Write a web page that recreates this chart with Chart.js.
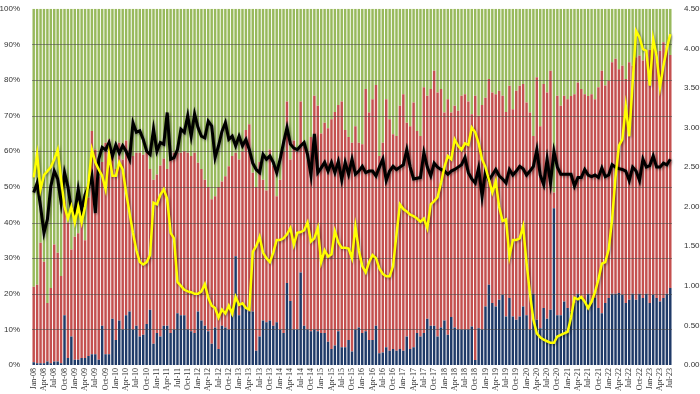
<!DOCTYPE html>
<html>
<head>
<meta charset="utf-8">
<script src="https://cdn.jsdelivr.net/npm/chart.js@4/dist/chart.umd.min.js"></script>
<style>
  html, body { margin: 0; padding: 0; background: #fff; }
  #wrap { width: 700px; height: 394px; }
</style>
</head>
<body>
<div id="wrap"><canvas id="chart" width="700" height="394"></canvas></div>
<script>
// categories: monthly, Jan-08 .. Jul-23
const monthNames = ['Jan','Feb','Mar','Apr','May','Jun','Jul','Aug','Sep','Oct','Nov','Dec'];
const firstYear = 2008, lastYear = 2023, lastMonth = 7;
const labels = [];
for (let y = firstYear; y <= lastYear; y++) {
    for (let m = 0; m < 12; m++) {
        if (y === lastYear && m >= lastMonth) break;
        labels.push(monthNames[m] + '-' + String(y).slice(2));
    }
}

// bottom (navy) share, %
const blueShare = [
    0.8, 0.5, 0.5, 0.5, 1, 0.5, 1, 1, 0.5, 14, 2, 8,            // 2008
    1.5, 1.5, 2, 2, 2.5, 3, 3, 1.5, 11, 3, 3, 13,               // 2009
    7, 12.5, 10, 14, 15, 10, 11, 8, 8.5, 11.5, 15.5, 6,         // 2010
    9, 8, 11, 11, 9, 10, 14.5, 14, 14, 10, 9.5, 9,              // 2011
    15, 12.5, 11, 9.5, 6, 10.5, 4.5, 11, 10.5, 10, 14, 30.5,    // 2012
    14, 17, 16, 15, 15, 4, 8, 12.5, 12, 12.5, 11, 12,           // 2013
    10, 9, 23, 18, 10, 10, 26, 11, 10, 9.5, 10, 9.5,            // 2014
    9, 9, 6.5, 4.5, 5.5, 9.5, 5, 5, 7, 3.8, 10, 10.5,           // 2015
    9, 9.5, 7, 7, 11, 3.3, 3.5, 5, 4, 4.5, 4, 4.5,              // 2016
    4, 8, 4.5, 5, 9, 8, 9, 13, 11, 11, 8, 10.5,                 // 2017
    12.5, 8.5, 13.5, 10.5, 10, 10, 10, 10, 10.8, 1.4, 10.3, 10, // 2018
    16.4, 22.5, 17.4, 16.4, 18.3, 19.7, 13.6, 18.8, 13.6, 12.7, 13.6, 16.4, // 2019
    14, 10, 20, 12.7, 10.3, 16, 13, 15.5, 44, 14, 14, 17.8,     // 2020
    16, 15, 17.4, 20, 18.8, 17.8, 20, 17.4, 18.8, 16, 14.5, 17.4, // 2021
    18.8, 20, 20, 20.2, 19.7, 17.4, 18.3, 20, 18.3, 20, 18.8, 20, // 2022
    17.4, 19.7, 18.8, 17.8, 18.8, 20, 21.6                      // 2023
];

// top of the red block (navy + red), %
const redTop = [
    22, 22.5, 34.3, 29, 17.4, 21.6, 33.8, 31.5, 25, 46, 40, 32.4,
    36, 37, 41, 35, 47, 65.7, 60.5, 53, 57, 62.4, 63.4, 59.6,
    55, 62.4, 57.7, 63, 60.5, 58.7, 59.6, 59.6, 59, 59.6, 55, 52,
    53.5, 56, 58, 55, 58, 59.6, 59.6, 59.6, 60, 59.6, 58.7, 59.6,
    56.8, 55, 52, 50, 46.5, 47.4, 50, 51.5, 53, 55.8, 58.7, 59.6,
    57.7, 60, 66, 67.6, 54, 50, 57, 52, 49, 60.5, 56, 47.4,
    52, 60, 74, 57.7, 63, 60, 74, 62, 57.7, 64, 75.6, 72.8,
    65, 68, 66.5, 69, 71, 73, 74, 66, 64, 62.4, 67, 62.4,
    62, 77.5, 70.9, 74.6, 78.6, 58.7, 62.4, 74.6, 69, 64.8, 64.3, 72.8,
    76, 68, 67, 73.7, 65.7, 64.3, 78, 75.6, 77.5, 82.6, 76.5, 77.5,
    70.9, 74.6, 70.9, 72.8, 71.4, 75.6, 76, 74, 70.4, 75.6, 70, 73,
    75, 80.3, 76.5, 76, 77, 75.6, 71, 78.4, 71.8, 77, 78.4, 78.9,
    73.7, 70.9, 64.3, 80.8, 67, 78.9, 76.5, 82.6, 48.4, 75.6, 72.8, 75.6,
    74.6, 75.5, 76, 79.3, 77.5, 76, 75.5, 76, 74.6, 78, 82.6, 78.5,
    79.8, 85, 86, 83, 84, 80.3, 85, 84, 86.4, 86.9, 85.5, 87.8,
    88.5, 91, 87.8, 88.2, 90.6, 89, 87
];

// right axis lines
const yellowLine = [
    2.37, 2.66, 2.22, 2.4, 2.45, 2.5, 2.6, 2.72, 2.35, 2.0, 1.85, 2.0,
    1.8, 2.0, 1.8, 2.0, 2.3, 2.72, 2.56, 2.47, 2.39, 2.22, 2.66, 2.39,
    2.39, 2.56, 2.47, 2.18, 1.92, 1.67, 1.45, 1.3, 1.27, 1.3, 1.39, 2.05,
    2.03, 2.15, 2.22, 2.1, 1.67, 1.6, 1.05, 1.0, 0.95, 0.93, 0.92, 0.9,
    0.9, 0.93, 1.02, 0.85, 0.75, 0.72, 0.6, 0.7, 0.65, 0.75, 0.65, 0.86,
    0.76, 0.78, 0.72, 0.7, 1.43, 1.5, 1.62, 1.42, 1.35, 1.3, 1.42, 1.58,
    1.58, 1.6, 1.65, 1.73, 1.52, 1.67, 1.68, 1.7, 1.8, 1.56, 1.6, 1.73,
    1.3, 1.45, 1.37, 1.4, 1.69, 1.55, 1.48, 1.48, 1.47, 1.35, 1.75, 1.45,
    1.25, 1.17, 1.3, 1.39, 1.35, 1.22, 1.15, 1.12, 1.12, 1.25, 1.65, 2.03,
    1.97, 1.94, 1.9, 1.88, 1.85, 1.81, 1.85, 1.73, 2.03, 2.07, 2.12, 2.3,
    2.5, 2.64, 2.6, 2.85, 2.77, 2.72, 2.8, 2.78, 3.0, 2.94, 2.8, 2.6,
    2.5, 2.34, 2.18, 2.32, 2.0, 1.82, 1.84, 1.37, 1.58, 1.58, 1.6, 1.75,
    1.29, 0.9, 0.57, 0.4, 0.35, 0.32, 0.3, 0.28, 0.28, 0.36, 0.38, 0.4,
    0.42, 0.6, 0.85, 0.83, 0.86, 0.8, 0.72, 0.8, 0.92, 1.08, 1.28, 1.3,
    1.46, 1.84, 2.38, 2.77, 2.85, 3.27, 2.89, 3.57, 4.22, 4.14, 3.99, 3.97,
    3.53, 4.12, 3.9, 3.51, 3.78, 4.0, 4.18
];

const blackLine = [
    2.18, 2.3, 2.0, 1.67, 1.84, 2.26, 2.45, 2.35, 2.05, 2.43, 2.25, 1.96,
    1.92, 2.22, 1.96, 2.15, 2.25, 2.39, 1.92, 2.6, 2.75, 2.72, 2.81, 2.64,
    2.78, 2.68, 2.77, 2.7, 2.6, 3.06, 2.94, 2.96, 2.85, 2.7, 2.66, 2.98,
    2.7, 2.81, 2.79, 3.19, 2.6, 2.62, 2.72, 2.98, 2.94, 3.15, 2.89, 3.17,
    3.0, 2.89, 2.87, 3.08, 3.02, 2.62, 2.77, 2.95, 3.06, 2.85, 2.89, 2.77,
    2.89, 2.77, 2.85, 2.72, 2.55, 2.47, 2.43, 2.66, 2.6, 2.64, 2.56, 2.43,
    2.6, 2.81, 3.0, 2.79, 2.74, 2.72, 2.77, 2.81, 2.66, 2.4, 2.92, 2.43,
    2.49, 2.56, 2.45, 2.56, 2.43, 2.57, 2.34, 2.56, 2.41, 2.6, 2.41, 2.45,
    2.51, 2.43, 2.45, 2.45, 2.39, 2.5, 2.6, 2.33, 2.45, 2.51, 2.47, 2.5,
    2.53, 2.72, 2.5, 2.35, 2.36, 2.37, 2.68, 2.5, 2.39, 2.55, 2.5, 2.47,
    2.45, 2.41, 2.45, 2.47, 2.5, 2.53, 2.62, 2.43, 2.35, 2.3, 2.49, 2.13,
    2.45, 2.34, 2.4, 2.47, 2.39, 2.35, 2.3, 2.47, 2.4, 2.45, 2.51, 2.48,
    2.4, 2.45, 2.51, 2.72, 2.4, 2.28, 2.6, 2.3, 2.7, 2.5, 2.41, 2.41,
    2.41, 2.41, 2.26, 2.37, 2.37, 2.47, 2.4, 2.38, 2.4, 2.37, 2.49, 2.38,
    2.4, 2.53, 2.5, 2.48, 2.47, 2.45, 2.33, 2.5, 2.45, 2.33, 2.6, 2.5,
    2.52, 2.64, 2.5, 2.5, 2.55, 2.53, 2.6
];

const redShare = redTop.map((v, i) => v - blueShare[i]);
const greenShare = redTop.map(v => 100 - v);

// gridlines over the bars but under the lines
const gridOverBars = {
    id: 'gridOverBars',
    afterDatasetDraw(chart, args) {
        if (args.index !== 0) return;
        const ctx = chart.ctx, area = chart.chartArea, ys = chart.scales.y;
        ctx.save();
        ctx.strokeStyle = 'rgba(70,70,70,0.55)';
        ctx.lineWidth = 1;
        for (let v = 10; v < 100; v += 10) {
            const py = Math.round(ys.getPixelForValue(v)) + 0.5;
            ctx.beginPath();
            ctx.moveTo(area.left, py);
            ctx.lineTo(area.right, py);
            ctx.stroke();
        }
        ctx.restore();
    }
};

// soft shadow behind the two lines
const lineShadow = {
    id: 'lineShadow',
    beforeDatasetDraw(chart, args) {
        if (args.meta.type !== 'line') return;
        const ctx = chart.ctx;
        ctx.save();
        ctx.shadowColor = 'rgba(0,0,0,0.45)';
        ctx.shadowBlur = 3;
        ctx.shadowOffsetX = 1;
        ctx.shadowOffsetY = 1;
    },
    afterDatasetDraw(chart, args) {
        if (args.meta.type !== 'line') return;
        chart.ctx.restore();
    }
};

const ctx = document.getElementById('chart').getContext('2d');
const chart = new Chart(ctx, {
    data: {
        labels: labels,
        datasets: [
            {
                type: 'bar', label: 'Blue', data: blueShare,
                backgroundColor: '#1f3a68', yAxisID: 'y', order: 2,
                barPercentage: 1, categoryPercentage: 0.72
            },
            {
                type: 'bar', label: 'Red', data: redShare,
                backgroundColor: '#c4504f', yAxisID: 'y', order: 2,
                barPercentage: 1, categoryPercentage: 0.72
            },
            {
                type: 'bar', label: 'Green', data: greenShare,
                backgroundColor: '#98b95c', yAxisID: 'y', order: 2,
                barPercentage: 1, categoryPercentage: 0.72
            },
            {
                type: 'line', label: 'Black', data: blackLine,
                borderColor: '#000000', borderWidth: 3, pointRadius: 0,
                tension: 0, yAxisID: 'y1', order: 1
            },
            {
                type: 'line', label: 'Yellow', data: yellowLine,
                borderColor: '#ffff00', borderWidth: 2.5, pointRadius: 0,
                tension: 0, yAxisID: 'y1', order: 0
            }
        ]
    },
    options: {
        responsive: false,
        animation: false,
        layout: { padding: { top: 5, left: 0, right: 0, bottom: 0 } },
        plugins: {
            legend: { display: false },
            tooltip: { enabled: false }
        },
        scales: {
            x: {
                stacked: true,
                grid: { display: false, drawTicks: false },
                border: { display: false },
                ticks: {
                    autoSkip: false,
                    minRotation: 90,
                    maxRotation: 90,
                    padding: 3,
                    color: '#333',
                    font: { family: 'Liberation Serif', size: 8 },
                    callback: function(val, index) {
                        return index % 3 === 0 ? labels[index] : null;
                    }
                },
                afterFit: function(scale) { scale.height = 29; }
            },
            y: {
                stacked: true,
                position: 'left',
                min: 0,
                max: 100,
                grid: { display: false },
                border: { display: false },
                ticks: {
                    stepSize: 10,
                    padding: 4,
                    color: '#333',
                    font: { family: 'Liberation Sans', size: 8 },
                    callback: function(v) { return v + '%'; }
                },
                afterFit: function(scale) { scale.width = 32; }
            },
            y1: {
                position: 'right',
                min: 0,
                max: 4.5,
                grid: { display: false },
                border: { display: false },
                ticks: {
                    stepSize: 0.5,
                    padding: 4,
                    color: '#333',
                    font: { family: 'Liberation Sans', size: 8 },
                    callback: function(v) { return v.toFixed(2); }
                },
                afterFit: function(scale) { scale.width = 28; }
            }
        }
    },
    plugins: [gridOverBars, lineShadow]
});
</script>
</body>
</html>
